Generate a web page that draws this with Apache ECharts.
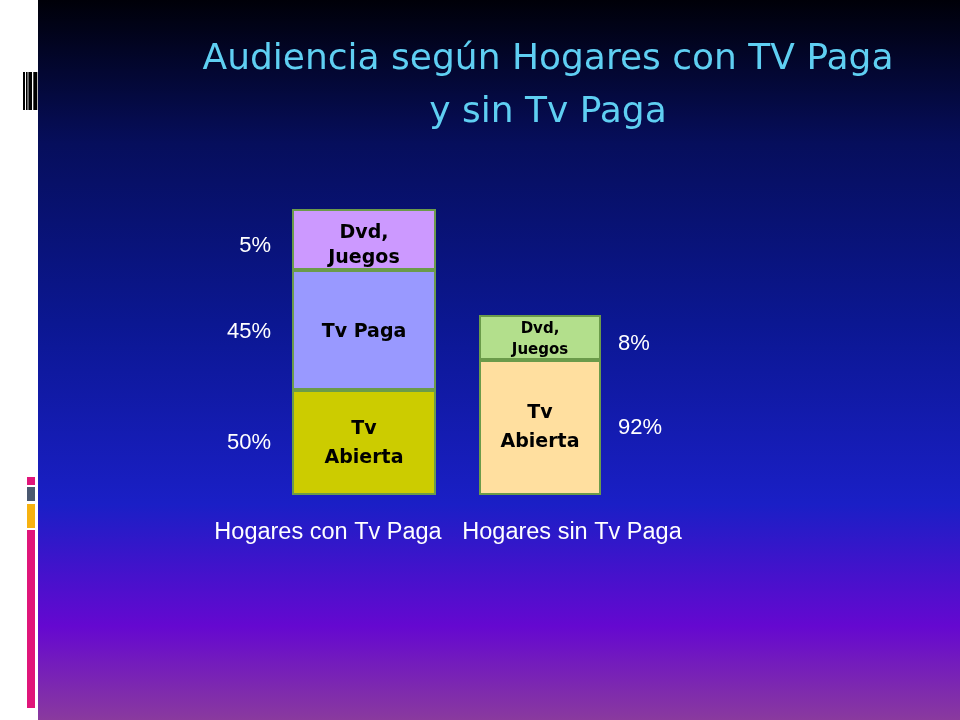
<!DOCTYPE html>
<html>
<head>
<meta charset="utf-8">
<script src="https://cdn.jsdelivr.net/npm/echarts@6/dist/echarts.min.js"></script>
<style>
  html, body { margin: 0; padding: 0; }
  #main { width: 960px; height: 720px; }
</style>
</head>
<body>
<div id="main"></div>
<script>
const hogares = ['Hogares con Tv Paga', 'Hogares sin Tv Paga'];

// hogares con tv paga (de abajo hacia arriba)
const segConTv = ['Tv\nAbierta', 'Tv Paga', 'Dvd,\nJuegos'];
const altoConTv = [105, 120, 61];   // alto dibujado de cada tramo
const pctConTv = [50, 45, 5];

// hogares sin tv paga
const segSinTv = ['Tv\nAbierta', 'Dvd,\nJuegos'];
const altoSinTv = [135, 45];
const pctSinTv = [92, 8];

const coloresConTv = ['#CCCC00', '#9999FF', '#CC99FF'];
const coloresSinTv = ['#FFDF9F', '#B3DF8C'];
const fontSizeConTv = [19, 19, 19];
const fontSizeSinTv = [19, 15];
const lineHConTv = [29, 24, 25];
const lineHSinTv = [29, 21];
const dyConTv = [1, 2, 6];
const dySinTv = [0, 2];
const dyPctConTv = [0, 2, 6];
const dyPctSinTv = [0, 6];

const yMax = 286;

let chart = echarts.init(document.getElementById('main'));

// tramos con el nombre adentro
function tramos(nombres, altos, colores, sizes, lines, dys, gridIdx) {
  return nombres.map((n, i) => ({
    type: 'bar',
    name: n,
    stack: 'a' + gridIdx,
    xAxisIndex: gridIdx,
    yAxisIndex: gridIdx,
    barWidth: '100%',
    barGap: '-100%',
    data: [altos[i]],
    itemStyle: {color: colores[i], borderColor: '#6B9B4A', borderWidth: 2},
    label: {
      show: true,
      position: 'inside',
      offset: [0, dys[i]],
      formatter: n,
      color: '#000',
      fontFamily: 'DejaVu Sans',
      fontWeight: 'bold',
      fontSize: sizes[i],
      lineHeight: lines[i]
    },
    emphasis: {disabled: true},
    silent: true,
    z: 2
  }));
}

// capa transparente encima solo para los porcentajes
function porcentajes(altos, pcts, dys, gridIdx, lado, dist) {
  return altos.map((a, i) => ({
    type: 'bar',
    stack: 'p' + gridIdx,
    xAxisIndex: gridIdx,
    yAxisIndex: gridIdx,
    barWidth: '100%',
    barGap: '-100%',
    data: [a],
    itemStyle: {color: 'rgba(0,0,0,0)', borderWidth: 0},
    label: {
      show: true,
      position: lado,
      distance: dist,
      offset: [0, dys[i]],
      formatter: pcts[i] + '%',
      color: '#fff',
      fontFamily: 'Liberation Sans',
      fontSize: 22
    },
    emphasis: {disabled: true},
    silent: true,
    z: 3
  }));
}

let option = {
  backgroundColor: {
    type: 'linear', x: 0, y: 0, x2: 0, y2: 1,
    colorStops: [
      {offset: 0, color: '#000008'},
      {offset: 0.2, color: '#060E5C'},
      {offset: 0.45, color: '#0B1792'},
      {offset: 0.7, color: '#1A1FC6'},
      {offset: 0.87, color: '#6508D0'},
      {offset: 1, color: '#8A3A9E'}
    ]
  },
  title: {
    text: 'Audiencia según Hogares con TV Paga\ny sin Tv Paga',
    left: 543,
    top: 28,
    textAlign: 'center',
    textStyle: {
      color: '#5FCFF2',
      fontFamily: 'DejaVu Sans',
      fontWeight: 'normal',
      fontSize: 36,
      lineHeight: 53
    }
  },
  graphic: [
    {type: 'rect', shape: {x: 0, y: 0, width: 38, height: 720}, style: {fill: '#ffffff'}},
    {type: 'rect', shape: {x: 23, y: 72, width: 2, height: 38}, style: {fill: '#000'}},
    {type: 'rect', shape: {x: 26, y: 72, width: 1.6, height: 38}, style: {fill: '#000'}},
    {type: 'rect', shape: {x: 28.4, y: 72, width: 3.6, height: 38}, style: {fill: '#000'}},
    {type: 'rect', shape: {x: 33.3, y: 72, width: 4, height: 38}, style: {fill: '#000'}},
    {type: 'rect', shape: {x: 27, y: 477, width: 8, height: 8}, style: {fill: '#E0157A'}},
    {type: 'rect', shape: {x: 27, y: 487, width: 8, height: 14}, style: {fill: '#4A5870'}},
    {type: 'rect', shape: {x: 27, y: 504, width: 8, height: 24}, style: {fill: '#F7B210'}},
    {type: 'rect', shape: {x: 27, y: 530, width: 8, height: 178}, style: {fill: '#E0157A'}}
  ],
  grid: [
    {left: 292, width: 144, top: 209, height: 286},
    {left: 479, width: 122, top: 209, height: 286}
  ],
  xAxis: [0, 1].map(i => ({
    type: 'category',
    gridIndex: i,
    data: [hogares[i]],
    axisLine: {show: false},
    axisTick: {show: false},
    axisLabel: {
      color: '#fff',
      fontFamily: 'Liberation Sans',
      fontSize: 23.5,
      margin: 26,
      interval: 0,
      padding: i === 0 ? [0, 72, 0, 0] : [0, 0, 0, 64]
    }
  })),
  yAxis: [0, 1].map(i => ({
    type: 'value',
    gridIndex: i,
    min: 0,
    max: yMax,
    show: false
  })),
  series: [
    ...tramos(segConTv, altoConTv, coloresConTv, fontSizeConTv, lineHConTv, dyConTv, 0),
    ...porcentajes(altoConTv, pctConTv, dyPctConTv, 0, 'left', 21),
    ...tramos(segSinTv, altoSinTv, coloresSinTv, fontSizeSinTv, lineHSinTv, dySinTv, 1),
    ...porcentajes(altoSinTv, pctSinTv, dyPctSinTv, 1, 'right', 17)
  ]
};

chart.setOption(option);
</script>
</body>
</html>
